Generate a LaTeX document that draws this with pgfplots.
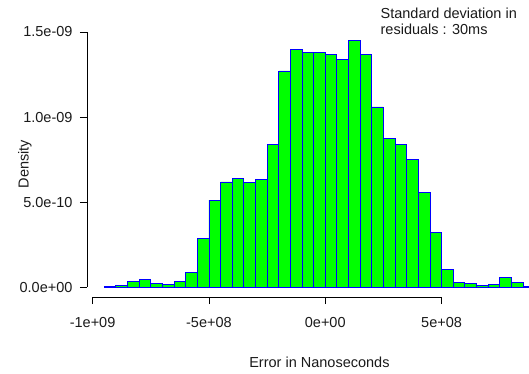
\documentclass[border=0pt]{standalone}
\usepackage{pgfplots}
\pgfplotsset{compat=1.18}
\usepackage{fontspec}
\setmainfont{Liberation Sans}
\definecolor{rgreen}{HTML}{00FF00}
\definecolor{rblue}{HTML}{0000FF}
\definecolor{txt}{HTML}{1A1A1A}
\begin{document}
\begin{tikzpicture}[font=\fontsize{14.5}{17}\selectfont, text=txt]
\begin{axis}[
  name=ax, at={(0,0)}, anchor=south west,
  scale only axis, width=442pt, height=297pt,
  xmin=-1.024e9, xmax=0.8757e9,
  ymin=-0.0582e-9, ymax=1.688e-9,
  axis line style={draw=none},
  clip mode=individual,
  tick align=outside, xtick pos=bottom, ytick pos=left,
  major tick length=7pt,
  tick style={black, line width=0.8pt},
  scaled x ticks=false, scaled y ticks=false,
  xtick={-1e9,-5e8,0,5e8}, xticklabels={-1e+09,-5e+08,0e+00,5e+08},
  ytick={0,0.5e-9,1e-9,1.5e-9}, yticklabels={0.0e+00,5.0e-10,1.0e-09,1.5e-09},
  xticklabel style={yshift=-10pt},
  yticklabel style={xshift=-4pt},
]
\addplot[ybar interval, fill=rgreen, draw=rblue, line width=0.8pt] table {
x y
-9.5e8 0.002e-9
-9.0e8 0.009e-9
-8.5e8 0.031e-9
-8.0e8 0.047e-9
-7.5e8 0.021e-9
-7.0e8 0.015e-9
-6.5e8 0.031e-9
-6.0e8 0.084e-9
-5.5e8 0.286e-9
-5.0e8 0.512e-9
-4.5e8 0.618e-9
-4.0e8 0.641e-9
-3.5e8 0.614e-9
-3.0e8 0.635e-9
-2.5e8 0.841e-9
-2.0e8 1.271e-9
-1.5e8 1.398e-9
-1.0e8 1.381e-9
-0.5e8 1.381e-9
0 1.367e-9
0.5e8 1.339e-9
1.0e8 1.449e-9
1.5e8 1.367e-9
2.0e8 1.059e-9
2.5e8 0.872e-9
3.0e8 0.841e-9
3.5e8 0.751e-9
4.0e8 0.557e-9
4.5e8 0.322e-9
5.0e8 0.105e-9
5.5e8 0.027e-9
6.0e8 0.021e-9
6.5e8 0.010e-9
7.0e8 0.018e-9
7.5e8 0.058e-9
8.0e8 0.029e-9
8.5e8 0.002e-9
9.0e8 0
};
\draw[black, line width=0.8pt] (axis cs:-1e9,-0.0582e-9) -- (axis cs:5e8,-0.0582e-9);
\draw[black, line width=0.8pt] (axis cs:-1.024e9,0) -- (axis cs:-1.024e9,1.5e-9);
\node[anchor=center] at (axis cs:-2.5e7,-0.4394e-9) {Error in Nanoseconds};
\node[anchor=center, rotate=90] at (axis cs:-1.291e9,0.724e-9) {Density};
\node[anchor=base west, inner sep=0pt] at (axis cs:2.373e8,1.5765e-9) {Standard deviation in};
\node[anchor=base west, inner sep=0pt] at (axis cs:2.373e8,1.4824e-9) {residuals : 30ms};
\end{axis}
\pgfresetboundingbox
\path[use as bounding box] ([shift={(-87pt,-77pt)}]ax.south west) rectangle (ax.north east);
\end{tikzpicture}
\end{document}
